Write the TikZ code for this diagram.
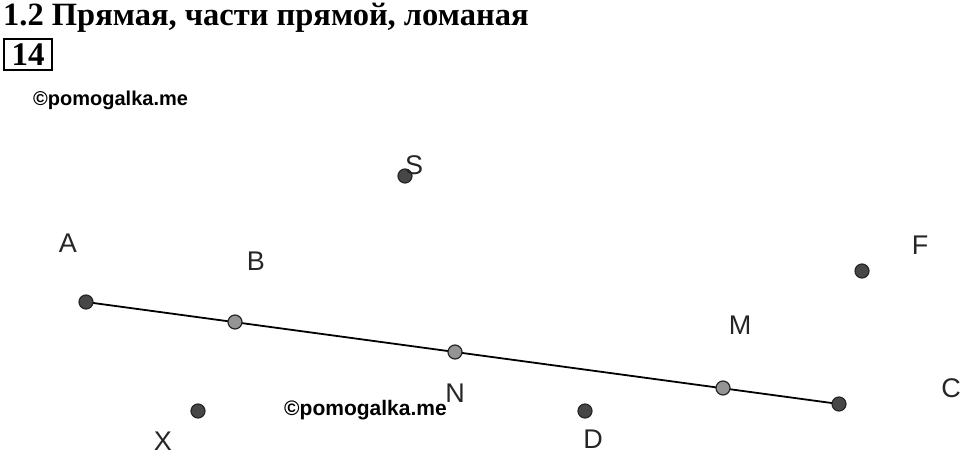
\documentclass[tikz,border=0pt]{standalone}
\usepackage{fontspec}
\setmainfont{Liberation Serif}
\setsansfont{Liberation Sans}
\usetikzlibrary{positioning}

\begin{document}
\begin{tikzpicture}[x=1pt, y=-1pt,
    pt/.style={circle, draw=black!85, line width=1.2pt, fill=black!72, inner sep=0pt, minimum size=14pt},
    ptl/.style={pt, fill=black!42},
    lbl/.style={font=\sffamily\fontsize{27}{27}\selectfont, text=black!85, inner sep=0pt},
    wmark/.style={font=\sffamily\bfseries\fontsize{20}{20}\selectfont, inner sep=0pt}]
    \useasboundingbox (0,0) rectangle (960,455);

    % заголовок
    \node[anchor=base west, inner sep=0pt, font=\bfseries\fontsize{32.5}{32.5}\selectfont] (title) at (3,25) {1.2 Прямая, части прямой, ломаная};
    \node[draw, line width=2pt, minimum width=48pt, minimum height=31pt, inner sep=0pt, font=\bfseries\fontsize{33}{33}\selectfont] (num) at (28,54.5) {14};
    \node[wmark, anchor=base west] (wm1) at (33,105) {©pomogalka.me};
    \node[wmark, anchor=base west, font=\sffamily\bfseries\fontsize{21}{21}\selectfont] (wm2) at (284,415) {©pomogalka.me};

    % прямая
    \coordinate (a) at (86,302);
    \coordinate (c) at (839,404);
    \draw[line width=1.8pt] (a) -- (c);

    % точки
    \node[pt] (A) at (a) {};
    \node[ptl] (B) at (235,322) {};
    \node[ptl] (N) at (455,352) {};
    \node[ptl] (M) at (723,388) {};
    \node[pt] (C) at (c) {};
    \node[pt] (S) at (405,176) {};
    \node[pt] (F) at (862,271) {};
    \node[pt] (X) at (198,411) {};
    \node[pt] (D) at (585,411) {};

    % подписи
    \node[lbl] (lA) at (68,243) {A};
    \node[lbl] (lB) at (256,261) {B};
    \node[lbl] (lS) at (414,165) {S};
    \node[lbl] (lN) at (455,393) {N};
    \node[lbl] (lM) at (740,325) {M};
    \node[lbl] (lF) at (920,245) {F};
    \node[lbl] (lC) at (951,388) {C};
    \node[lbl] (lX) at (163,441) {X};
    \node[lbl] (lD) at (593,439) {D};
\end{tikzpicture}
\end{document}
